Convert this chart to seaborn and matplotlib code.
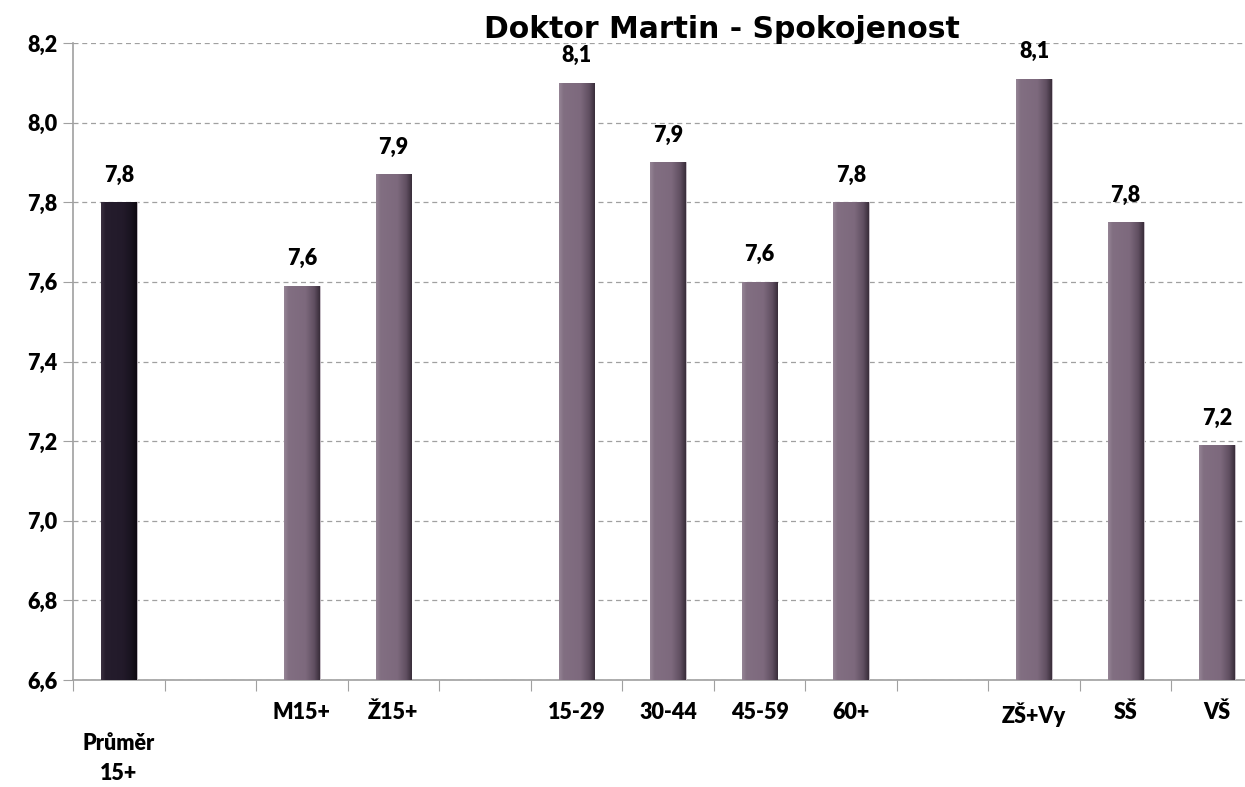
import numpy as np
import pandas as pd
import matplotlib
matplotlib.use("Agg")
import matplotlib.pyplot as plt
from matplotlib.colors import LinearSegmentedColormap
import seaborn as sns

# data (empty slots are gaps between groups)
categories = ["\nPrůměr\n15+", " ", "M15+", "Ž15+", "  ", "15-29", "30-44", "45-59", "60+",
              "   ", "ZŠ+Vy", "SŠ", "VŠ"]
values = [7.80, np.nan, 7.59, 7.87, np.nan, 8.10, 7.90, 7.60, 7.80, np.nan, 8.11, 7.75, 7.19]
labels = ["7,8", "", "7,6", "7,9", "", "8,1", "7,9", "7,6", "7,8", "", "8,1", "7,8", "7,2"]
bar_colors = ["#231b2b"] + ["#7f6b7f"] * 12
yticks = [6.6, 6.8, 7.0, 7.2, 7.4, 7.6, 7.8, 8.0, 8.2]

df = pd.DataFrame({"kat": categories, "hodnota": values})

sns.set_style("white")
plt.rcParams['font.family'] = ['Lato', 'DejaVu Sans']
plt.rcParams['text.color'] = 'black'
plt.rcParams['xtick.labelcolor'] = 'black'
plt.rcParams['ytick.labelcolor'] = 'black'

fig = plt.figure(figsize=(12.45, 7.87), dpi=100)
ax = fig.add_axes([73 / 1245, 107 / 787, 1190 / 1245, 637 / 787])

sns.barplot(data=df, x="kat", y="hodnota", hue="kat", palette=bar_colors,
            order=categories, hue_order=categories, legend=False,
            width=0.39, saturation=1, ax=ax, zorder=3)

# shading gradient on bars
light = LinearSegmentedColormap.from_list(
    "l", [(0, "#958495"), (0.12, "#826f82"), (0.6, "#7d697d"), (0.85, "#604f61"), (1, "#3a2e3b")])
dark = LinearSegmentedColormap.from_list(
    "d", [(0, "#3a3040"), (0.12, "#251d2d"), (0.6, "#221a2a"), (0.85, "#19131f"), (1, "#0e0a11")])
grad = np.linspace(0, 1, 64).reshape(1, -1)
for i, p in enumerate(ax.patches):
    h = p.get_height()
    if not np.isfinite(h) or h == 0:
        continue
    x0 = p.get_x()
    w = p.get_width()
    cm = dark if i == 0 else light
    im = ax.imshow(grad, cmap=cm, aspect="auto", extent=[x0, x0 + w, 6.6, h],
                   zorder=4, interpolation="bilinear")
    im.set_clip_path(p)
    p.set_edgecolor("#c8c0c8")
    p.set_linewidth(0.6)

ax.set_xlim(-0.5, len(categories) - 0.5)
ax.set_ylim(6.6, 8.2)

# value labels
for i, (v, t) in enumerate(zip(values, labels)):
    if t:
        ax.annotate(t, (i, v), xytext=(0, 12), textcoords="offset points",
                    ha="center", va="bottom", fontsize=15.5, fontweight="heavy",
                    color="black", zorder=6)

# grid
ax.set_yticks(yticks)
ax.set_yticklabels([f"{y:.1f}".replace(".", ",") for y in yticks],
                   fontsize=15.5, fontweight="heavy")
ax.yaxis.grid(True, linestyle=(0, (4, 3)), color="#a0a0a0", linewidth=0.9, zorder=0)
ax.tick_params(axis="y", length=7, color="#a0a0a0", pad=4, left=True)

# x ticks: marks on boundaries, labels in centres
ax.set_xticks(np.arange(-0.5, len(categories), 1.0))
ax.set_xticklabels([])
ax.set_xticks(np.arange(len(categories)), minor=True)
ax.set_xticklabels(categories, minor=True, fontsize=15.5, fontweight="heavy",
                   linespacing=1.55, va="top")
ax.tick_params(axis="x", which="major", length=8, color="#a0a0a0", bottom=True)
ax.tick_params(axis="x", which="minor", length=0, pad=16)
ax.set_xlabel("")
ax.set_ylabel("")

for s in ["top", "right"]:
    ax.spines[s].set_visible(False)
for s in ["left", "bottom"]:
    ax.spines[s].set_color("#a0a0a0")
    ax.spines[s].set_linewidth(1.2)

fig.text(722 / 1245, 1 - 29 / 787, "Doktor Martin - Spokojenost", ha="center", va="center",
         fontsize=21.5, fontweight="bold", family="DejaVu Sans", color="black")

fig.savefig("out.png", dpi=100)
